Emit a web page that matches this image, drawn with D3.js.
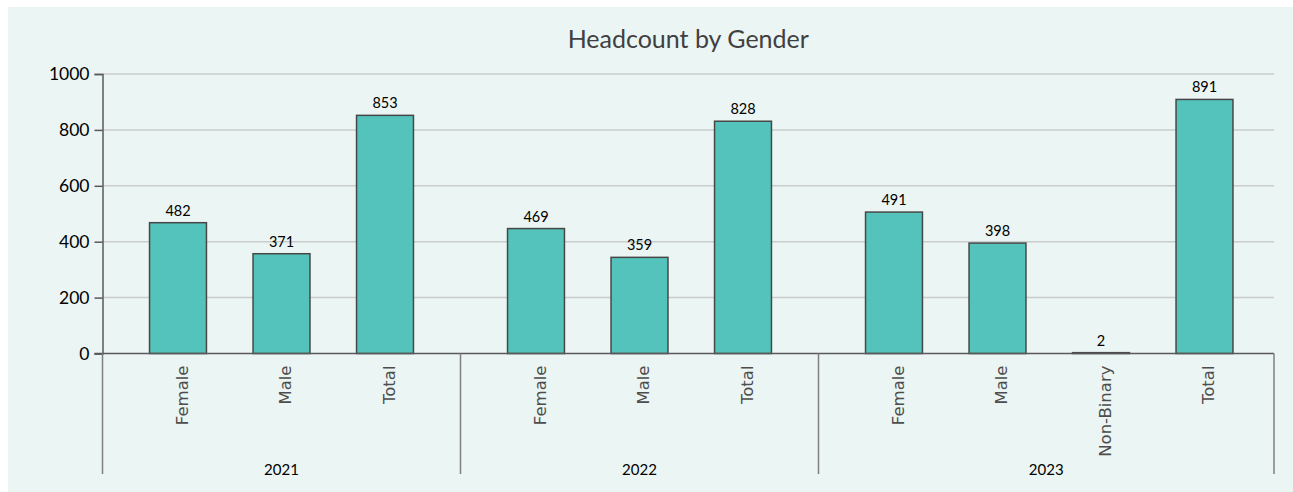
<!DOCTYPE html>
<html>
<head>
<meta charset="utf-8">
<script src="https://cdn.jsdelivr.net/npm/d3@7/dist/d3.min.js"></script>
<style>
  html, body { margin: 0; padding: 0; background: #ffffff; }
  svg { display: block; }
</style>
</head>
<body>
<svg id="chart" width="1293" height="492"></svg>
<script>
// ---- data ----
const title = "Headcount by Gender";
const years = ["2021", "2022", "2023"];
const categories2021 = ["Female", "Male", "Total"];
const categories2022 = ["Female", "Male", "Total"];
const categories2023 = ["Female", "Male", "Non-Binary", "Total"];
// bar heights as drawn in the picture
const bars2021 = [468, 357, 852];
const bars2022 = [447, 344, 831];
const bars2023 = [506, 395, 3, 909];
// data labels as printed
const labels2021 = [482, 371, 853];
const labels2022 = [469, 359, 828];
const labels2023 = [491, 398, 2, 891];
const yTicks = [0, 200, 400, 600, 800, 1000];

const groups = [
  { year: years[0], cats: categories2021, bars: bars2021, labels: labels2021 },
  { year: years[1], cats: categories2022, bars: bars2022, labels: labels2022 },
  { year: years[2], cats: categories2023, bars: bars2023, labels: labels2023 }
];

// ---- layout ----
const W = 1293, H = 492;
const plotL = 102.5, plotR = 1274, plotT = 74, plotB = 353.5;
const slot = 103.5, groupGap = 47.5;

const svg = d3.select("#chart");
svg.append("rect").attr("x", 8).attr("y", 7).attr("width", W - 8).attr("height", H - 7).attr("fill", "#ebf5f3");

const y = d3.scaleLinear().domain([0, 1000]).range([plotB, plotT]);

// gridlines
svg.append("g").selectAll("line").data(yTicks.filter(t => t > 0)).join("line")
  .attr("x1", plotL).attr("x2", plotR)
  .attr("y1", d => y(d)).attr("y2", d => y(d))
  .attr("stroke", "#c9cccc").attr("stroke-width", 1.5);

// y axis
const yAxis = svg.append("g").attr("transform", `translate(${plotL},0)`)
  .call(d3.axisLeft(y).tickValues(yTicks).tickSize(8).tickPadding(5).tickFormat(d3.format("d")));
yAxis.select(".domain").attr("stroke", "#595959").attr("stroke-width", 1.5);
yAxis.selectAll(".tick line").attr("stroke", "#595959").attr("stroke-width", 1.5);
yAxis.selectAll(".tick text").attr("fill", "#000").style("font-family", "Lato, 'Open Sans', sans-serif").style("font-size", "17.5px");

// groups
let gx = plotL;
const sepXs = [plotL];
groups.forEach((g, gi) => {
  const gw = g.cats.length * slot + groupGap;
  const x = d3.scaleBand().domain(g.cats)
    .range([gx + groupGap / 2, gx + groupGap / 2 + g.cats.length * slot])
    .paddingInner(0.45).paddingOuter(0.225);
  const gg = svg.append("g");
  gg.selectAll("rect").data(g.cats).join("rect")
    .attr("x", d => x(d)).attr("width", x.bandwidth())
    .attr("y", (d, i) => y(g.bars[i])).attr("height", (d, i) => y(0) - y(g.bars[i]))
    .attr("fill", "#54c3bc").attr("stroke", "#474747").attr("stroke-width", 1.5);
  gg.selectAll("text.lbl").data(g.cats).join("text").attr("class", "lbl")
    .attr("x", d => x(d) + x.bandwidth() / 2)
    .attr("y", (d, i) => y(g.bars[i]) - 7)
    .attr("text-anchor", "middle")
    .style("font-family", "Lato, 'Open Sans', sans-serif").style("font-size", "14.5px").attr("fill", "#000")
    .text((d, i) => g.labels[i]);
  // category axis
  const xa = svg.append("g").attr("transform", `translate(0,${plotB})`)
    .call(d3.axisBottom(x).tickSize(0).tickPadding(0));
  xa.select(".domain").remove();
  xa.selectAll(".tick text")
    .attr("transform", "rotate(-90)")
    .attr("text-anchor", "end")
    .attr("x", -12).attr("y", 0).attr("dy", "0.6em")
    .style("font-family", "'DejaVu Sans', Verdana, sans-serif").style("font-size", "16.5px")
    .attr("fill", "#4d4d4d");
  const end = gi === groups.length - 1 ? plotR : gx + gw;
  // year label
  svg.append("text").attr("x", (gx + end) / 2).attr("y", 475)
    .attr("text-anchor", "middle")
    .style("font-family", "Lato, 'Open Sans', sans-serif").style("font-size", "15px").attr("fill", "#000")
    .text(g.year);
  gx += gw;
  sepXs.push(end);
});

// baseline
svg.append("line").attr("x1", plotL - 8).attr("x2", plotR).attr("y1", plotB).attr("y2", plotB)
  .attr("stroke", "#595959").attr("stroke-width", 1.5);
// group separators
svg.append("g").selectAll("line").data(sepXs).join("line")
  .attr("x1", d => d).attr("x2", d => d).attr("y1", plotB).attr("y2", 474)
  .attr("stroke", "#7f7f7f").attr("stroke-width", 1.5);

// title
svg.append("text").attr("x", (plotL + plotR) / 2).attr("y", 48)
  .attr("text-anchor", "middle")
  .style("font-family", "Lato, 'Open Sans', sans-serif").style("font-size", "25px").attr("fill", "#404040")
  .text(title);
</script>
</body>
</html>
